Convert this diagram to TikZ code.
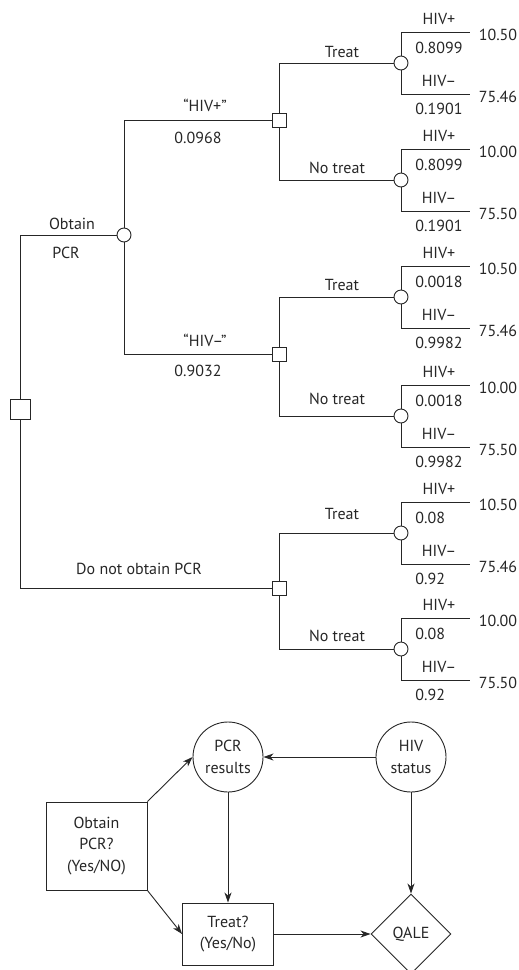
\documentclass[tikz,border=0pt]{standalone}
\usepackage{fontspec}
\setmainfont{PT Sans}
\usetikzlibrary{shapes.geometric,arrows.meta}
\begin{document}
\begin{tikzpicture}[x=1pt,y=-1pt,line width=0.9pt,color=black!85,
  font=\fontsize{16}{21.5}\selectfont,
  chance/.style={draw, circle, fill=white, minimum size=14pt, inner sep=0pt},
  decision/.style={draw, rectangle, fill=white, minimum size=14pt, inner sep=0pt},
  lbl/.style={inner sep=1pt},
  >={Stealth[length=10pt,width=7pt,inset=3pt]}]
\useasboundingbox (0,0) rectangle (519,970);
% decision tree
\node[decision, minimum size=20pt] (root) at (20,409) {};
\node[chance] (pcr) at (124,235) {};
\node[decision] (pos) at (279,120) {};
\node[decision] (neg) at (279,354) {};
\node[decision] (nopcr) at (279,588) {};
\draw (root) |- (pcr);
\draw (root) |- (nopcr);
\draw (pcr) |- (pos);
\draw (pcr) |- (neg);
\node[lbl] (l-obtain) at (72,224) {Obtain};
\node[lbl] (l-pcr) at (66,253) {PCR};
\node[lbl] (l-pos) at (205,105) {“HIV+”};
\node[lbl] (l-ppos) at (198,138) {0.0968};
\node[lbl] (l-neg) at (205,340) {“HIV–”};
\node[lbl] (l-pneg) at (198,371) {0.9032};
\node[lbl] (l-nopcr) at (139,569) {Do not obtain PCR};
% chance fans
\foreach \nm/\yc/\pa/\pb/\va/\vb in {posT/63/0.8099/0.1901/10.50/75.46,
    posN/180/0.8099/0.1901/10.00/75.50, negT/297/0.0018/0.9982/10.50/75.46,
    negN/416/0.0018/0.9982/10.00/75.50, noT/533/0.08/0.92/10.50/75.46,
    noN/649/0.08/0.92/10.00/75.50}{
  \node[chance] (\nm) at (401,\yc) {};
  \coordinate (\nm-a) at (470,\yc-31);
  \coordinate (\nm-b) at (470,\yc+31);
  \draw (\nm) |- (\nm-a);
  \draw (\nm) |- (\nm-b);
  \node[lbl] (\nm-la) at (439,\yc-44) {HIV+};
  \node[lbl, anchor=west] (\nm-pa) at (414,\yc-15) {\pa};
  \node[lbl] (\nm-lb) at (439,\yc+18) {HIV–};
  \node[lbl, anchor=west] (\nm-pb) at (414,\yc+46) {\pb};
  \node[lbl] (\nm-va) at (498,\yc-28) {\va};
  \node[lbl] (\nm-vb) at (498,\yc+34) {\vb};
}
\draw (pos) |- (posT);
\draw (pos) |- (posN);
\draw (neg) |- (negT);
\draw (neg) |- (negN);
\draw (nopcr) |- (noT);
\draw (nopcr) |- (noN);
\node[lbl] (l-t1) at (342,52) {Treat};
\node[lbl] (l-n1) at (337,168) {No treat};
\node[lbl] (l-t2) at (342,285) {Treat};
\node[lbl] (l-n2) at (337,399) {No treat};
\node[lbl] (l-t3) at (342,514) {Treat};
\node[lbl] (l-n3) at (337,636) {No treat};
% influence diagram
\node[draw, rectangle, minimum width=101pt, minimum height=88pt, align=center] (obtain) at (96.5,846) {Obtain\\PCR?\\(Yes/NO)};
\node[draw, circle, minimum size=70pt, inner sep=0pt, align=center] (results) at (228,757) {PCR\\results};
\node[draw, circle, minimum size=70pt, inner sep=0pt, align=center] (status) at (411,757) {HIV\\status};
\node[draw, rectangle, minimum width=91pt, minimum height=62pt, align=center] (treat) at (228,934) {Treat?\\(Yes/No)};
\node[draw, diamond, aspect=1, minimum size=80pt, inner sep=0pt] (qale) at (411,934) {QALE};
\draw[->] (obtain.north east) -- (results.west);
\draw[->] (obtain.south east) -- (treat.west);
\draw[->] (status) -- (results);
\draw[->] (results) -- (treat);
\draw[->] (status) -- (qale);
\draw[->] (treat) -- (qale);
\end{tikzpicture}
\end{document}
